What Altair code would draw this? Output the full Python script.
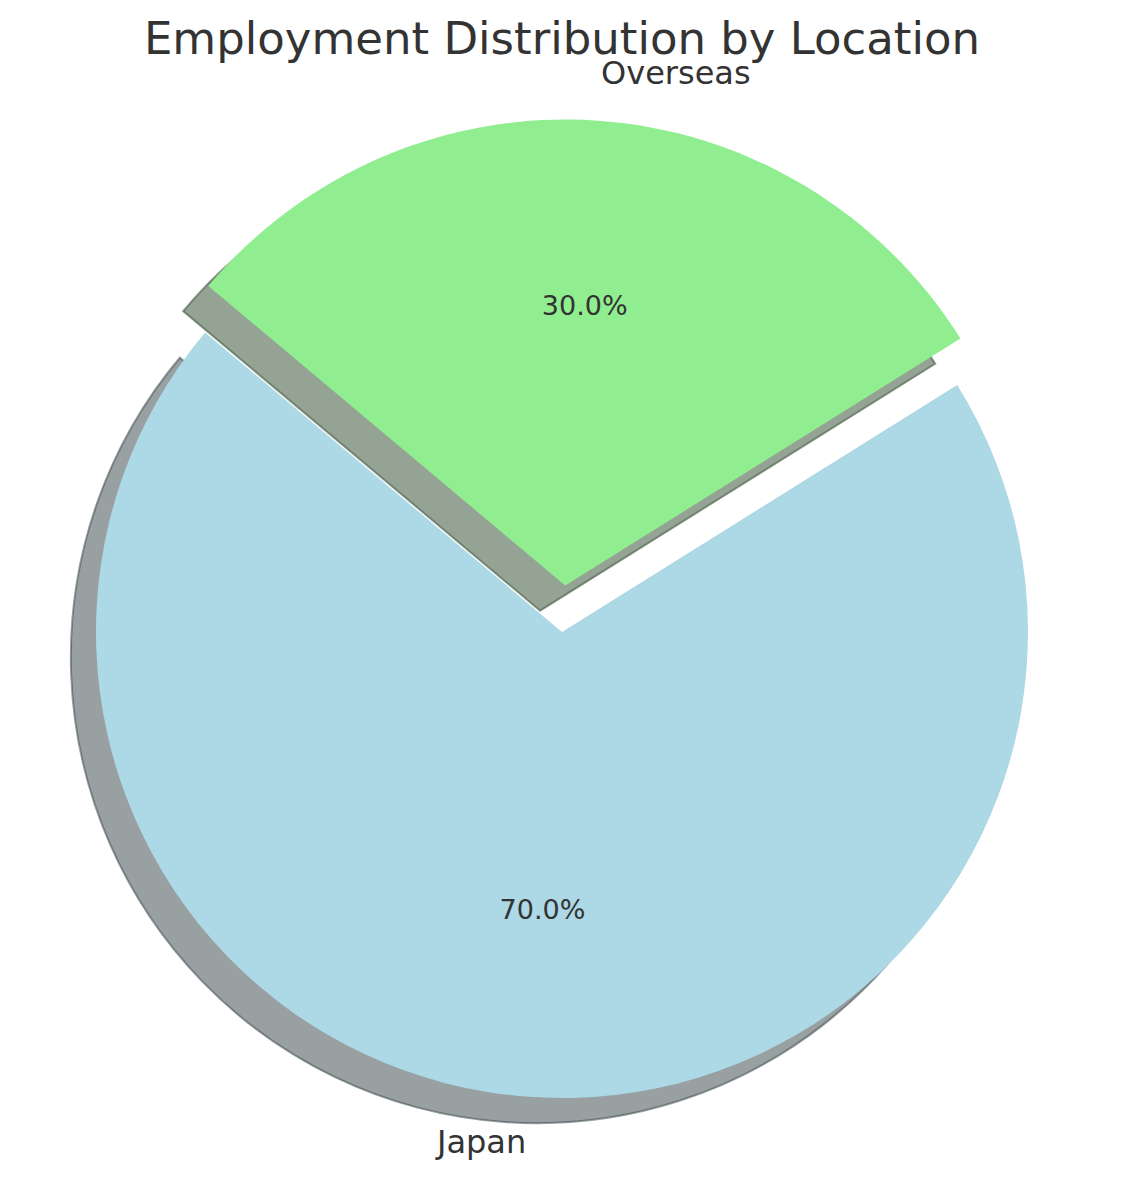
import altair as alt
import numpy as np
import pandas as pd

# ---- data ----
locations = ["Japan", "Overseas"]
shares = [70, 30]
colors = ["#ADD8E6", "#90EE90"]
explode = [0.0, 0.1]
start_angle = 140  # degrees, counter-clockwise from 3 o'clock
title_text = "Employment Distribution by Location"

FONT = "DejaVu Sans"
TXT = "#333333"
R_PX = 466          # pie radius in pixels
W, H = 1108, 1160
CX, CY = 554, 624   # pie centre in plot pixels
SHADOW = 0.054      # shadow offset in radius units
TITLE_BASELINE = 46

total = float(sum(shares))
cum = np.concatenate([[0], np.cumsum(shares)]) / total * 100.0
rows = []
for i, (loc, v) in enumerate(zip(locations, shares)):
    a0 = start_angle + 3.6 * cum[i]
    a1 = start_angle + 3.6 * cum[i + 1]
    mid = np.deg2rad((a0 + a1) / 2)
    cx = explode[i] * np.cos(mid)
    cy = explode[i] * np.sin(mid)
    rgb = np.array([int(colors[i][k:k + 2], 16) for k in (1, 3, 5)]) * 0.3
    shade = "#%02x%02x%02x" % tuple(int(round(c)) for c in rgb)
    rows.append(dict(
        loc=loc, p0=cum[i], p1=cum[i + 1], color=colors[i], shade=shade,
        cx=cx, cy=cy, sx=cx - SHADOW, sy=cy - SHADOW,
        lx=cx + 1.1 * np.cos(mid), ly=cy + 1.1 * np.sin(mid),
        px=cx + 0.6 * np.cos(mid), py=cy + 0.6 * np.sin(mid),
        pct="%.1f%%" % (v / total * 100),
        ha="left" if np.cos(mid) > 0 else "right",
    ))
df = pd.DataFrame(rows)

unit = R_PX
xs = alt.Scale(domain=[-CX / unit, (W - CX) / unit], nice=False, zero=False)
ys = alt.Scale(domain=[-(H - CY) / unit, CY / unit], nice=False, zero=False)
v0 = 90 - start_angle + 720
ts = alt.Scale(domain=[0, 100], range=[np.deg2rad(v0), np.deg2rad(v0 - 360)])

base = alt.Chart(df)

shadow = base.mark_arc(radius=R_PX, fillOpacity=0.5, strokeOpacity=0.5, strokeWidth=2).encode(
    x=alt.X("sx:Q", scale=xs, axis=None),
    y=alt.Y("sy:Q", scale=ys, axis=None),
    theta=alt.Theta("p0:Q", scale=ts),
    theta2="p1:Q",
    fill=alt.Fill("shade:N", scale=None),
    stroke=alt.Stroke("shade:N", scale=None),
)

wedges = base.mark_arc(radius=R_PX).encode(
    x=alt.X("cx:Q", scale=xs, axis=None),
    y=alt.Y("cy:Q", scale=ys, axis=None),
    theta=alt.Theta("p0:Q", scale=ts),
    theta2="p1:Q",
    fill=alt.Fill("color:N", scale=None),
)

def label_layer(ha):
    return base.transform_filter(alt.datum.ha == ha).mark_text(
        font=FONT, fontSize=32, color=TXT, align=ha, baseline="middle"
    ).encode(
        x=alt.X("lx:Q", scale=xs, axis=None),
        y=alt.Y("ly:Q", scale=ys, axis=None),
        text="loc:N",
    )

pcts = base.mark_text(font=FONT, fontSize=27, color=TXT, align="center", baseline="middle").encode(
    x=alt.X("px:Q", scale=xs, axis=None),
    y=alt.Y("py:Q", scale=ys, axis=None),
    text="pct:N",
)

title = alt.Chart(pd.DataFrame({"t": [title_text], "x": [0.0]})).mark_text(
    font=FONT, fontSize=45, color=TXT, align="center", baseline="alphabetic"
).encode(
    x=alt.X("x:Q", scale=xs, axis=None),
    y=alt.value(TITLE_BASELINE),
    text="t:N",
)

chart = alt.layer(shadow, wedges, label_layer("left"), label_layer("right"), pcts, title).properties(
    width=W, height=H,
    autosize=alt.AutoSizeParams(type="none"),
    padding=0,
).configure_view(stroke=None)

chart.save("out.html", embed_options={"renderer": "svg", "actions": False})
